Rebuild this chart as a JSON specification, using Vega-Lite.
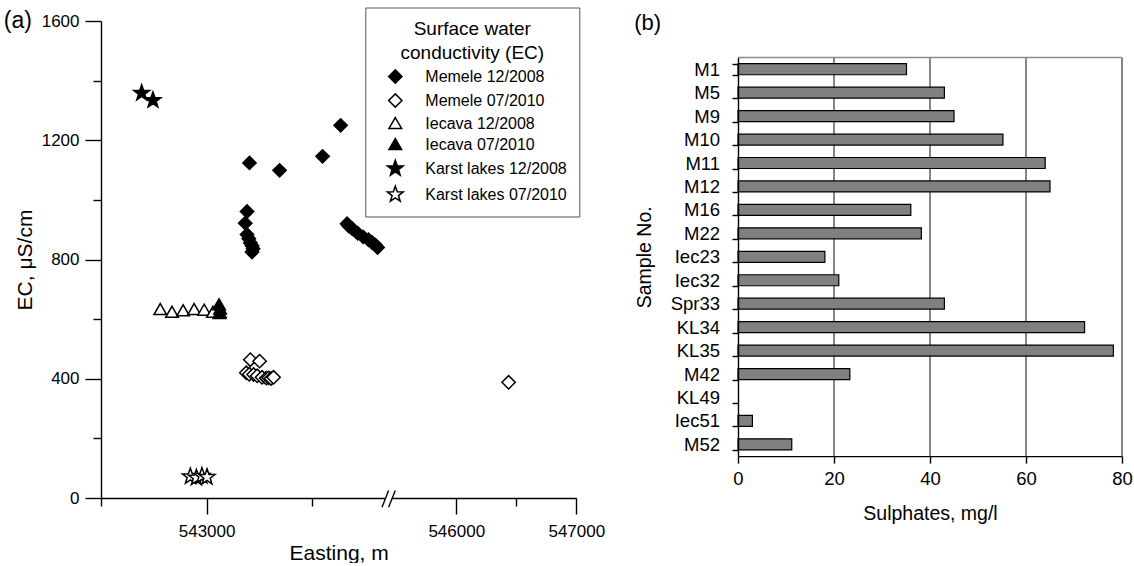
{
  "$schema": "https://vega.github.io/schema/vega-lite/v6.json",
  "background": "white",
  "padding": {"left": 3, "top": 7, "right": 0, "bottom": 0},
  "spacing": 29,
  "config": {
    "font": "Liberation Sans",
    "view": {"stroke": null},
    "axis": {"labelColor": "black", "titleColor": "black", "domainColor": "black", "tickColor": "black", "titleFontWeight": "normal", "labelFont": "Liberation Sans", "titleFont": "Liberation Sans"},
    "title": {"color": "black", "fontWeight": "normal", "font": "Liberation Sans"}
  },
  "datasets": {
    "ec": [
      {"series": "Memele 12/2008", "easting": 543406, "ec": 1124},
      {"series": "Memele 12/2008", "easting": 543691, "ec": 1099},
      {"series": "Memele 12/2008", "easting": 544098, "ec": 1146},
      {"series": "Memele 12/2008", "easting": 544269, "ec": 1250},
      {"series": "Memele 12/2008", "easting": 543383, "ec": 961},
      {"series": "Memele 12/2008", "easting": 543366, "ec": 922},
      {"series": "Memele 12/2008", "easting": 543383, "ec": 884},
      {"series": "Memele 12/2008", "easting": 543400, "ec": 870},
      {"series": "Memele 12/2008", "easting": 543414, "ec": 856},
      {"series": "Memele 12/2008", "easting": 543430, "ec": 846},
      {"series": "Memele 12/2008", "easting": 543440, "ec": 836},
      {"series": "Memele 12/2008", "easting": 543430, "ec": 825},
      {"series": "Memele 12/2008", "easting": 544330, "ec": 920},
      {"series": "Memele 12/2008", "easting": 544346, "ec": 912},
      {"series": "Memele 12/2008", "easting": 544380, "ec": 903},
      {"series": "Memele 12/2008", "easting": 544431, "ec": 888},
      {"series": "Memele 12/2008", "easting": 544482, "ec": 876},
      {"series": "Memele 12/2008", "easting": 544533, "ec": 866},
      {"series": "Memele 12/2008", "easting": 544567, "ec": 857},
      {"series": "Memele 12/2008", "easting": 544600, "ec": 848},
      {"series": "Memele 12/2008", "easting": 544619, "ec": 840},
      {"series": "Memele 07/2010", "easting": 543414, "ec": 464},
      {"series": "Memele 07/2010", "easting": 543502, "ec": 459},
      {"series": "Memele 07/2010", "easting": 543376, "ec": 420},
      {"series": "Memele 07/2010", "easting": 543404, "ec": 415},
      {"series": "Memele 07/2010", "easting": 543445, "ec": 414},
      {"series": "Memele 07/2010", "easting": 543479, "ec": 410},
      {"series": "Memele 07/2010", "easting": 543525, "ec": 405},
      {"series": "Memele 07/2010", "easting": 543565, "ec": 402},
      {"series": "Memele 07/2010", "easting": 543587, "ec": 403},
      {"series": "Memele 07/2010", "easting": 543610, "ec": 401},
      {"series": "Memele 07/2010", "easting": 543634, "ec": 405},
      {"series": "Memele 07/2010", "easting": 546436, "ec": 388},
      {"series": "Iecava 12/2008", "easting": 542561, "ec": 632},
      {"series": "Iecava 12/2008", "easting": 542672, "ec": 623},
      {"series": "Iecava 12/2008", "easting": 542778, "ec": 628},
      {"series": "Iecava 12/2008", "easting": 542882, "ec": 632},
      {"series": "Iecava 12/2008", "easting": 542977, "ec": 630},
      {"series": "Iecava 12/2008", "easting": 543060, "ec": 623},
      {"series": "Iecava 12/2008", "easting": 543122, "ec": 619},
      {"series": "Iecava 07/2010", "easting": 543118, "ec": 648},
      {"series": "Iecava 07/2010", "easting": 543128, "ec": 634},
      {"series": "Iecava 07/2010", "easting": 543125, "ec": 622},
      {"series": "Karst lakes 12/2008", "easting": 542385, "ec": 1358},
      {"series": "Karst lakes 12/2008", "easting": 542492, "ec": 1334},
      {"series": "Karst lakes 07/2010", "easting": 542846, "ec": 72},
      {"series": "Karst lakes 07/2010", "easting": 542903, "ec": 68},
      {"series": "Karst lakes 07/2010", "easting": 542956, "ec": 74},
      {"series": "Karst lakes 07/2010", "easting": 543004, "ec": 70}
    ],
    "axisgap": [{"x1": 544692, "x2": 545433, "y1": -12, "y2": 12}],
    "axisslash": [
      {"x1": 544661, "x2": 545057, "y1": -31, "y2": 25},
      {"x1": 545057, "x2": 545492, "y1": -31, "y2": 25}
    ],
    "sulphates": [
      {"sample": "M1", "so4": 35.1},
      {"sample": "M5", "so4": 43.0},
      {"sample": "M9", "so4": 45.0},
      {"sample": "M10", "so4": 55.2},
      {"sample": "M11", "so4": 64.0},
      {"sample": "M12", "so4": 65.0},
      {"sample": "M16", "so4": 36.0},
      {"sample": "M22", "so4": 38.2},
      {"sample": "Iec23", "so4": 18.1},
      {"sample": "Iec32", "so4": 21.0},
      {"sample": "Spr33", "so4": 43.0},
      {"sample": "KL34", "so4": 72.2},
      {"sample": "KL35", "so4": 78.2},
      {"sample": "M42", "so4": 23.3},
      {"sample": "KL49", "so4": null},
      {"sample": "Iec51", "so4": 3.0},
      {"sample": "M52", "so4": 11.2}
    ],
    "gridticks": [{"tick": 20}, {"tick": 40}, {"tick": 60}, {"tick": 80}]
  },
  "hconcat": [
    {
      "width": 475.3,
      "height": 477,
      "layer": [
        {
          "data": {"name": "ec"},
          "mark": {"type": "point", "size": 177, "strokeWidth": 1.5, "opacity": 1},
          "encoding": {
            "x": {
              "field": "easting", "type": "quantitative", "title": "Easting, m",
              "scale": {"domain": [542000, 544692, 545467, 547000], "range": [0, 284.3, 291.3, 475.3], "zero": false, "nice": false},
              "axis": {
                "values": [542000, 543000, 544000, 546000, 546500, 547000],
                "format": "d",
                "labelFlush": false,
                "labelExpr": "(datum.value == 543000 || datum.value == 546000 || datum.value == 547000) ? datum.label : ''",
                "tickSize": {"condition": {"test": "datum.value == 543000 || datum.value == 546000 || datum.value == 547000", "value": 16}, "value": 8},
                "grid": false, "domainWidth": 1.4, "tickWidth": 1.4,
                "labelFontSize": 17, "labelPadding": 9, "titleFontSize": 21, "titlePadding": 3
              }
            },
            "y": {
              "field": "ec", "type": "quantitative", "title": "EC, μS/cm",
              "scale": {"domain": [0, 1600], "nice": false},
              "axis": {
                "values": [0, 200, 400, 600, 800, 1000, 1200, 1400, 1600],
                "format": "d",
                "labelExpr": "datum.value % 400 == 0 ? datum.label : ''",
                "tickSize": {"condition": {"test": "datum.value % 400 == 0", "value": 16}, "value": 8},
                "grid": false, "domainWidth": 1.4, "tickWidth": 1.4,
                "labelFontSize": 17, "labelPadding": 6, "titleFontSize": 21, "titlePadding": 6
              }
            },
            "shape": {
              "field": "series", "type": "nominal",
              "scale": {
                "domain": ["Memele 12/2008", "Memele 07/2010", "Iecava 12/2008", "Iecava 07/2010", "Karst lakes 12/2008", "Karst lakes 07/2010"],
                "range": ["diamond", "diamond", "M0,-0.9L0.95,0.75L-0.95,0.75Z", "M0,-0.9L0.95,0.75L-0.95,0.75Z", "M0,-1.25L0.294,-0.405L1.189,-0.386L0.475,0.155L0.735,1.011L0,0.5L-0.735,1.011L-0.475,0.155L-1.189,-0.386L-0.294,-0.405Z", "M0,-1.25L0.294,-0.405L1.189,-0.386L0.475,0.155L0.735,1.011L0,0.5L-0.735,1.011L-0.475,0.155L-1.189,-0.386L-0.294,-0.405Z"]
              },
              "legend": {
                "title": ["Surface water", "conductivity (EC)"],
                "orient": "none", "legendX": 264.3, "legendY": -13.5,
                "strokeColor": "#555", "fillColor": "white", "padding": 12,
                "titleFontSize": 19, "titleFontWeight": "normal", "titleAnchor": "middle", "titleAlign": "center", "titleLineHeight": 24, "titlePadding": 6, "titleColor": "black",
                "labelFontSize": 16, "labelColor": "black", "labelOffset": 22, "symbolOffset": 10, "rowPadding": 4,
                "symbolSize": 177, "symbolStrokeWidth": 1.5
              }
            },
            "fill": {
              "field": "series", "type": "nominal",
              "scale": {
                "domain": ["Memele 12/2008", "Memele 07/2010", "Iecava 12/2008", "Iecava 07/2010", "Karst lakes 12/2008", "Karst lakes 07/2010"],
                "range": ["black", "white", "white", "black", "black", "white"]
              },
              "legend": {
                "title": ["Surface water", "conductivity (EC)"],
                "orient": "none", "legendX": 264.3, "legendY": -13.5,
                "strokeColor": "#555", "fillColor": "white", "padding": 12,
                "titleFontSize": 19, "titleFontWeight": "normal", "titleAnchor": "middle", "titleAlign": "center", "titleLineHeight": 24, "titlePadding": 6, "titleColor": "black",
                "labelFontSize": 16, "labelColor": "black", "labelOffset": 22, "symbolOffset": 10, "rowPadding": 4,
                "symbolSize": 177, "symbolStrokeWidth": 1.5
              }
            },
            "stroke": {
              "field": "series", "type": "nominal",
              "scale": {
                "domain": ["Memele 12/2008", "Memele 07/2010", "Iecava 12/2008", "Iecava 07/2010", "Karst lakes 12/2008", "Karst lakes 07/2010"],
                "range": ["black", "black", "black", "black", "black", "black"]
              },
              "legend": {
                "title": ["Surface water", "conductivity (EC)"],
                "orient": "none", "legendX": 264.3, "legendY": -13.5,
                "strokeColor": "#555", "fillColor": "white", "padding": 12,
                "titleFontSize": 19, "titleFontWeight": "normal", "titleAnchor": "middle", "titleAlign": "center", "titleLineHeight": 24, "titlePadding": 6, "titleColor": "black",
                "labelFontSize": 16, "labelColor": "black", "labelOffset": 22, "symbolOffset": 10, "rowPadding": 4,
                "symbolSize": 177, "symbolStrokeWidth": 1.5
              }
            }
          }
        },
        {
          "data": {"name": "axisgap"},
          "mark": {"type": "rect", "fill": "white"},
          "encoding": {
            "x": {"field": "x1", "type": "quantitative"},
            "x2": {"field": "x2"},
            "y": {"field": "y1", "type": "quantitative"},
            "y2": {"field": "y2"}
          }
        },
        {
          "data": {"name": "axisslash"},
          "mark": {"type": "rule", "color": "black", "strokeWidth": 1.4},
          "encoding": {
            "x": {"field": "x1", "type": "quantitative"},
            "x2": {"field": "x2"},
            "y": {"field": "y1", "type": "quantitative"},
            "y2": {"field": "y2"}
          }
        },
        {
          "data": {"values": [{}]},
          "mark": {"type": "text", "fontSize": 23, "color": "black", "align": "center", "baseline": "middle"},
          "encoding": {
            "x": {"datum": 541212, "type": "quantitative"},
            "y": {"datum": 1600, "type": "quantitative"},
            "text": {"value": "(a)"}
          }
        }
      ]
    },
    {
      "width": 384,
      "height": 435.1,
      "title": {"text": "(b)", "anchor": "start", "frame": "bounds", "offset": -23, "fontSize": 22},
      "layer": [
        {
          "data": {"name": "gridticks"},
          "mark": {"type": "rule", "color": "#333", "strokeWidth": 1.2},
          "encoding": {
            "x": {"field": "tick", "type": "quantitative"},
            "y": {"datum": "M1", "type": "nominal", "bandPosition": -0.5638},
            "y2": {"datum": "M52", "bandPosition": 1.5638}
          }
        },
        {
          "data": {"name": "sulphates"},
          "mark": {"type": "bar", "fill": "#808080", "stroke": "black", "strokeWidth": 1.2},
          "encoding": {
            "y": {
              "field": "sample", "type": "nominal", "sort": null, "title": "Sample No.",
              "scale": {"domain": ["M1", "M5", "M9", "M10", "M11", "M12", "M16", "M22", "Iec23", "Iec32", "Spr33", "KL34", "KL35", "M42", "KL49", "Iec51", "M52"], "range": [36.5, 435.1], "paddingInner": 0.53, "paddingOuter": 0.265},
              "axis": {"tickBand": "extent", "tickSize": 6, "domainWidth": 1.4, "tickWidth": 1.4, "labelFontSize": 18.5, "labelPadding": 12.5, "titleFontSize": 19.5, "titlePadding": 16, "zindex": 1}
            },
            "x": {
              "field": "so4", "type": "quantitative", "title": "Sulphates, mg/l",
              "scale": {"domain": [0, 80], "nice": false},
              "axis": {"values": [0, 20, 40, 60, 80], "labelFlush": false, "grid": false, "tickSize": 7, "domainWidth": 1.4, "tickWidth": 1.4, "labelFontSize": 18.5, "labelPadding": 6, "titleFontSize": 19.5, "titlePadding": 17, "zindex": 1}
            }
          }
        },
        {
          "data": {"values": [{}]},
          "mark": {"type": "rule", "color": "#8a8a8a", "strokeWidth": 1.4},
          "encoding": {
            "x": {"datum": 0, "type": "quantitative"},
            "x2": {"datum": 80},
            "y": {"datum": "M1", "type": "nominal", "bandPosition": -0.5638}
          }
        }
      ]
    }
  ]
}
